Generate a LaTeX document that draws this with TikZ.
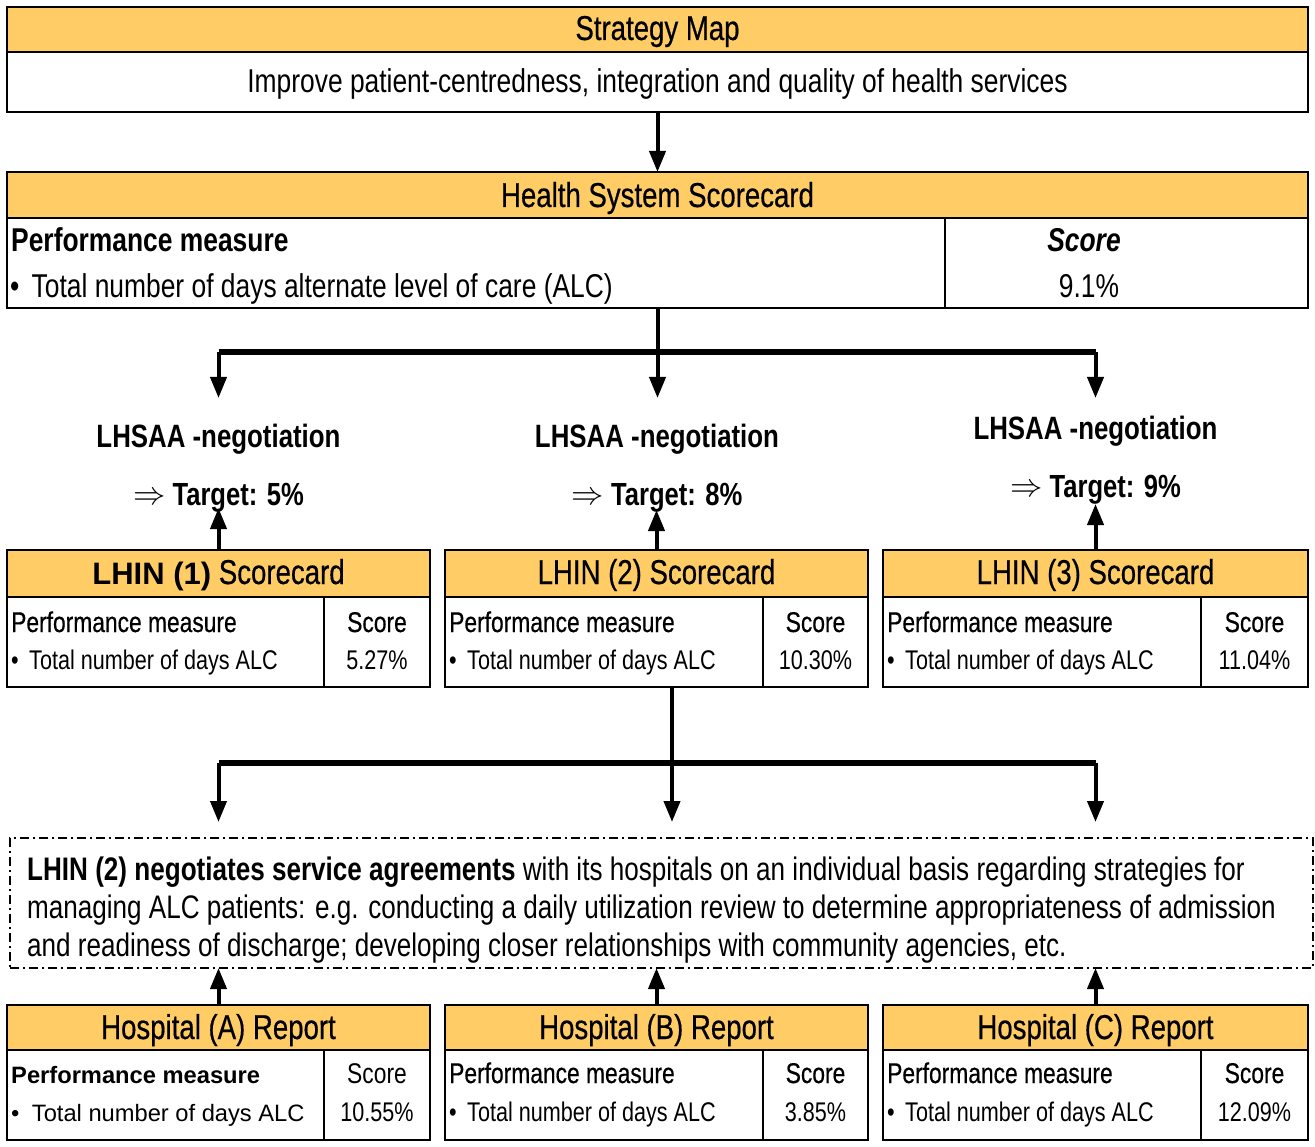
\documentclass[tikz,border=0pt]{standalone}
\usepackage{fontspec}
\usepackage{graphicx}
\setmainfont{Liberation Sans}[FakeStretch=0.80]
\newfontfamily\widefont{Liberation Sans}
\newfontfamily\hdrfam{Liberation Sans}[FakeStretch=0.80, UprightFeatures={FakeBold=0.5}]
\usetikzlibrary{arrows.meta}
\definecolor{hdrfill}{RGB}{255,204,102}
\newcommand\fsz[1]{\fontsize{#1}{#1}\selectfont}
\newcommand\hfont{\hdrfam\fsz{34.5}}
\newcommand\impl{\raisebox{1pt}{\scalebox{1.3}{$\Rightarrow$}}}
% table: name, left, top, width, header h, left w, right w, body h
\newcommand\mktable[8]{%
  \node[hdr, minimum width=#4pt, minimum height=#5pt] (#1h) at (#2,#3) {};
  \node[cellbox, minimum width=#6pt, minimum height=#8pt] (#1l) at (#1h.south west) {};
  \node[cellbox, minimum width=#7pt, minimum height=#8pt] (#1r) at (#1l.north east) {};
}
% rows: name, left x, score centre x, base1, base2, value
\newcommand\smallrows[6]{%
  \node[txt, font={\hdrfam\fsz{28.5}}] (#1pm) at (#2,#4) {Performance measure};
  \node[txt, font={\fsz{27}}] (#1tn) at (#2,#5) {\makebox[18pt][l]{•}Total number of days ALC};
  \node[ctxt, font={\hdrfam\fsz{28.5}}] (#1sc) at (#3,#4) {Score};
  \node[ctxt, font={\fsz{27}}] (#1va) at (#3,#5) {#6};
}
\begin{document}
\begin{tikzpicture}[x=1pt,y=-1pt,
  hdr/.style={draw, line width=1.8pt, fill=hdrfill, inner sep=0pt, outer sep=0pt, anchor=north west},
  cellbox/.style={draw, line width=1.8pt, fill=white, inner sep=0pt, outer sep=0pt, anchor=north west},
  dbox/.style={draw, line width=1.5pt, dash pattern=on 9pt off 4pt on 2pt off 4pt, inner sep=0pt, outer sep=0pt, anchor=north west},
  txt/.style={inner sep=0pt, anchor=base west},
  ctxt/.style={inner sep=0pt, anchor=base},
  shaft/.style={line width=4pt, -{Triangle[length=21pt,width=16pt]}},
  stem/.style={line width=4pt},
  splitbar/.style={line width=5.5pt},
]
\useasboundingbox[fill=white] (0,0) rectangle (1315,1147);

% ---------- Strategy map ----------
\node[hdr, minimum width=1301pt, minimum height=45pt] (smh) at (7,7) {};
\node[cellbox, minimum width=1301pt, minimum height=60pt] (smb) at (smh.south west) {};
\node[ctxt, font=\hfont] (smt) at (657.5,40) {Strategy Map};
\node[ctxt, font={\fsz{33}}] (smx) at (657.5,93) {Improve patient-centredness, integration and quality of health services};

% ---------- Health system scorecard ----------
\mktable{hs}{7}{172}{1301}{46}{938}{363}{90}
\node[ctxt, font=\hfont] (hst) at (657.5,207) {Health System Scorecard};
\node[txt, font={\fsz{33}\bfseries}] (hspm) at (11,252) {Performance measure};
\node[txt, font={\fsz{33}}] (hstn) at (10,298) {\makebox[21.5pt][l]{•}Total number of days alternate level of care (ALC)};
\node[ctxt, font={\fsz{33}\bfseries\itshape}] (hssc) at (1084,252) {Score};
\node[ctxt, font={\fsz{33}}] (hsva) at (1089,298) {9.1\%};

% ---------- LHSAA labels ----------
\node[ctxt, font={\fsz{32.3}\bfseries}] (n1) at (218.5,447) {LHSAA -negotiation};
\node[ctxt, font={\fsz{32}\bfseries}] (g1) at (218.5,505) {\impl{} Target: 5\%};
\node[ctxt, font={\fsz{32.3}\bfseries}] (n2) at (657,447) {LHSAA -negotiation};
\node[ctxt, font={\fsz{32}\bfseries}] (g2) at (657,505) {\impl{} Target: 8\%};
\node[ctxt, font={\fsz{32.3}\bfseries}] (n3) at (1095.5,440) {LHSAA -negotiation};
\node[ctxt, font={\fsz{32}\bfseries}] (g3) at (1095.5,497) {\impl{} Target: 9\%};

% ---------- LHIN scorecards ----------
\mktable{la}{7}{550}{423}{47}{317}{106}{90}
\mktable{lb}{445}{550}{423}{47}{318}{105}{90}
\mktable{lc}{883}{550}{425}{47}{318}{107}{90}
\node[ctxt, font=\hfont] (lat) at (218.5,584) {{\widefont\bfseries\fsz{31}LHIN (1)} Scorecard};
\node[ctxt, font=\hfont] (lbt) at (656.5,584) {LHIN (2) Scorecard};
\node[ctxt, font=\hfont] (lct) at (1095.5,584) {LHIN (3) Scorecard};
\smallrows{la}{11}{377}{632}{669}{5.27\%}
\smallrows{lb}{449}{815.5}{632}{669}{10.30\%}
\smallrows{lc}{887}{1254.5}{632}{669}{11.04\%}

% ---------- dashed agreement box ----------
\node[dbox, minimum width=1303pt, minimum height=130pt] (db) at (10,838) {};
\node[txt, font={\fsz{32.6}}] (dt1) at (27,880) {\textbf{LHIN (2) negotiates service agreements} with its hospitals on an individual basis regarding strategies for};
\node[txt, font={\fsz{32.6}}] (dt2) at (27,918) {managing ALC patients: e.g. conducting a daily utilization review to determine appropriateness of admission};
\node[txt, font={\fsz{32.6}}] (dt3) at (27,956) {and readiness of discharge; developing closer relationships with community agencies, etc.};

% ---------- Hospital reports ----------
\mktable{ha}{7}{1005}{423}{45}{317}{106}{90}
\mktable{hb}{445}{1005}{423}{45}{318}{105}{90}
\mktable{hc}{883}{1005}{425}{45}{318}{107}{90}
\node[ctxt, font=\hfont] (hat) at (218.5,1039) {Hospital (A) Report};
\node[ctxt, font=\hfont] (hbt) at (656.5,1039) {Hospital (B) Report};
\node[ctxt, font=\hfont] (hct) at (1095.5,1039) {Hospital (C) Report};
\node[txt, font={\widefont\fsz{23.7}\bfseries}] (hapm) at (11,1083) {Performance measure};
\node[txt, font={\widefont\fsz{23.7}}] (hatn) at (11,1121) {\makebox[20.7pt][l]{•}Total number of days ALC};
\node[ctxt, font={\fsz{28.5}}] (hasc) at (377,1083) {Score};
\node[ctxt, font={\fsz{27}}] (hava) at (377,1121) {10.55\%};
\smallrows{hb}{449}{815.5}{1083}{1121}{3.85\%}
\smallrows{hc}{887}{1254.5}{1083}{1121}{12.09\%}

% ---------- connectors ----------
\draw[shaft] (smb.south) -- (hsh.north);

\coordinate (j1) at (657.5,352);
\coordinate (j1l) at (218.5,352);
\coordinate (j1r) at (1095.5,352);
\coordinate (e1) at (218.5,398);
\coordinate (e2) at (657.5,398);
\coordinate (e3) at (1095.5,398);
\draw[stem] (hsh.north |- hsl.south) -- (j1);
\draw[splitbar] (j1l) -- (j1r);
\draw[shaft] (j1l) -- (e1);
\draw[shaft] (j1) -- (e2);
\draw[shaft] (j1r) -- (e3);

\coordinate (t1) at (218.5,508);
\coordinate (t2) at (656.5,510);
\coordinate (t3) at (1095.5,504);
\draw[shaft] (lah.north) -- (t1);
\draw[shaft] (lbh.north) -- (t2);
\draw[shaft] (lch.north) -- (t3);

\coordinate (l2out) at (672,687);
\coordinate (j2) at (672,763);
\coordinate (j2l) at (218.5,763);
\coordinate (j2r) at (1095.5,763);
\coordinate (f1) at (218.5,822);
\coordinate (f2) at (672,822);
\coordinate (f3) at (1095.5,822);
\draw[stem] (l2out) -- (j2);
\draw[splitbar] (j2l) -- (j2r);
\draw[shaft] (j2l) -- (f1);
\draw[shaft] (j2) -- (f2);
\draw[shaft] (j2r) -- (f3);

\draw[shaft] (hah.north) -- (hah.north |- db.south);
\draw[shaft] (hbh.north) -- (hbh.north |- db.south);
\draw[shaft] (hch.north) -- (hch.north |- db.south);
\end{tikzpicture}
\end{document}
